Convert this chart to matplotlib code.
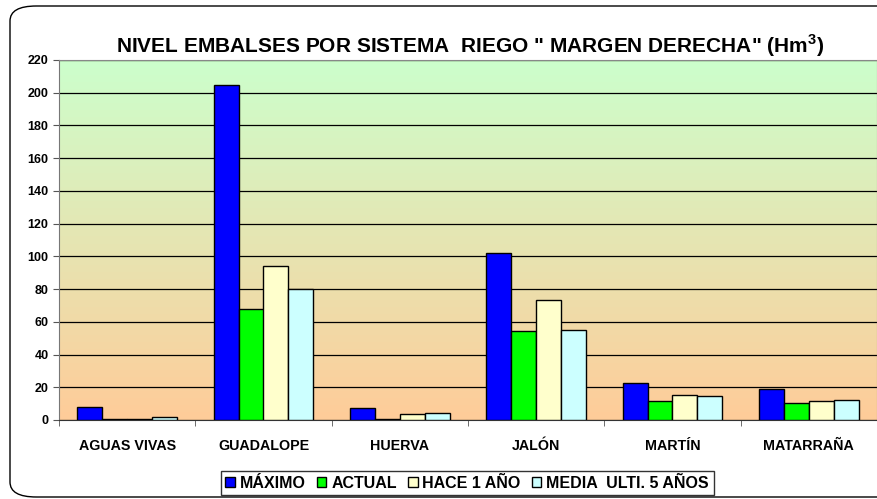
import numpy as np
import matplotlib
matplotlib.use("Agg")
import matplotlib.pyplot as plt
from matplotlib.patches import FancyBboxPatch

plt.rcParams['font.family'] = ['Liberation Sans', 'DejaVu Sans']
plt.rcParams['font.weight'] = 'bold'
plt.rcParams['mathtext.fontset'] = 'custom'
plt.rcParams['mathtext.bf'] = 'Liberation Sans:bold'
plt.rcParams['mathtext.rm'] = 'Liberation Sans:bold'

# data
sistemas = ["AGUAS VIVAS", "GUADALOPE", "HUERVA", "JALÓN", "MARTÍN", "MATARRAÑA"]
maximo = [8.1, 204.8, 7.4, 101.9, 22.4, 18.7]
actual = [0.5, 67.8, 0.6, 54.2, 11.4, 10.2]
hace_1_anio = [0.5, 94.3, 3.7, 73.2, 15.5, 11.6]
media_5 = [2.0, 80.3, 4.3, 55.2, 14.7, 12.4]

series = [("MÁXIMO", maximo, "#0000FF"),
          ("ACTUAL", actual, "#00FF00"),
          ("HACE 1 AÑO", hace_1_anio, "#FFFFCC"),
          ("MEDIA  ULTI. 5 AÑOS", media_5, "#CCFFFF")]

fig = plt.figure(figsize=(8.78, 4.99), dpi=100)
ax = fig.add_axes([59/878, 1-420/499, 818/878, 360/499])

# rounded frame around the whole chart (right side runs off the canvas)
frame = FancyBboxPatch((10/878, 2/499), 900/878, 491/499,
                       boxstyle="round,pad=0,rounding_size=0.03",
                       transform=fig.transFigure, fill=False,
                       edgecolor="black", linewidth=1.0, zorder=0)
fig.patches.append(frame)

# gradient background (green top -> peach bottom)
top = np.array([204, 255, 204]) / 255
bot = np.array([255, 204, 153]) / 255
t = np.linspace(0, 1, 256)[:, None]
grad = (top * (1 - t) + bot * t)[:, None, :]
ax.imshow(grad, extent=[-0.5, len(sistemas) - 0.5, 0, 220],
          aspect='auto', zorder=0)

x = np.arange(len(sistemas))
w = 0.183
for i, (lab, vals, col) in enumerate(series):
    ax.bar(x + (i - 1.5) * w, vals, w, color=col, edgecolor="black",
           linewidth=1.0, label=lab, zorder=3)

ax.set_xlim(-0.5, len(sistemas) - 0.5)
ax.set_ylim(0, 220)
ax.set_yticks(range(0, 221, 20))
ax.yaxis.grid(True, color="black", linewidth=0.9, zorder=1)
ax.set_axisbelow(True)

ax.set_xticks(x)
ax.set_xticklabels(sistemas, fontsize=10.3, fontweight='bold')
ax.set_xticks(np.arange(-0.5, len(sistemas)), minor=True)
ax.tick_params(axis='x', which='major', length=0, pad=14)
ax.tick_params(axis='x', which='minor', length=4, color="#555555")
ax.tick_params(axis='y', length=4, color="#555555", labelsize=9)
for lab in ax.get_yticklabels():
    lab.set_fontweight('bold')

for s in ["top", "right"]:
    ax.spines[s].set_color("#888888")
ax.spines["left"].set_color("#777777")
ax.spines["bottom"].set_color("#333333")

fig.text(0.535, 0.908, 'NIVEL EMBALSES POR SISTEMA  RIEGO " MARGEN DERECHA" (Hm$^{3}$)',
         ha='center', va='center', fontsize=15, fontweight='bold')

leg = ax.legend(loc='center', bbox_to_anchor=(0.532, 0.032),
                bbox_transform=fig.transFigure, ncol=4, frameon=True,
                fancybox=False, edgecolor="black", fontsize=11.5,
                handlelength=0.6, handleheight=0.6, handletextpad=0.3,
                columnspacing=0.7, borderpad=0.3)
leg.get_frame().set_linewidth(1.0)
for txt in leg.get_texts():
    txt.set_fontweight('bold')

fig.savefig("out.png", dpi=100)
